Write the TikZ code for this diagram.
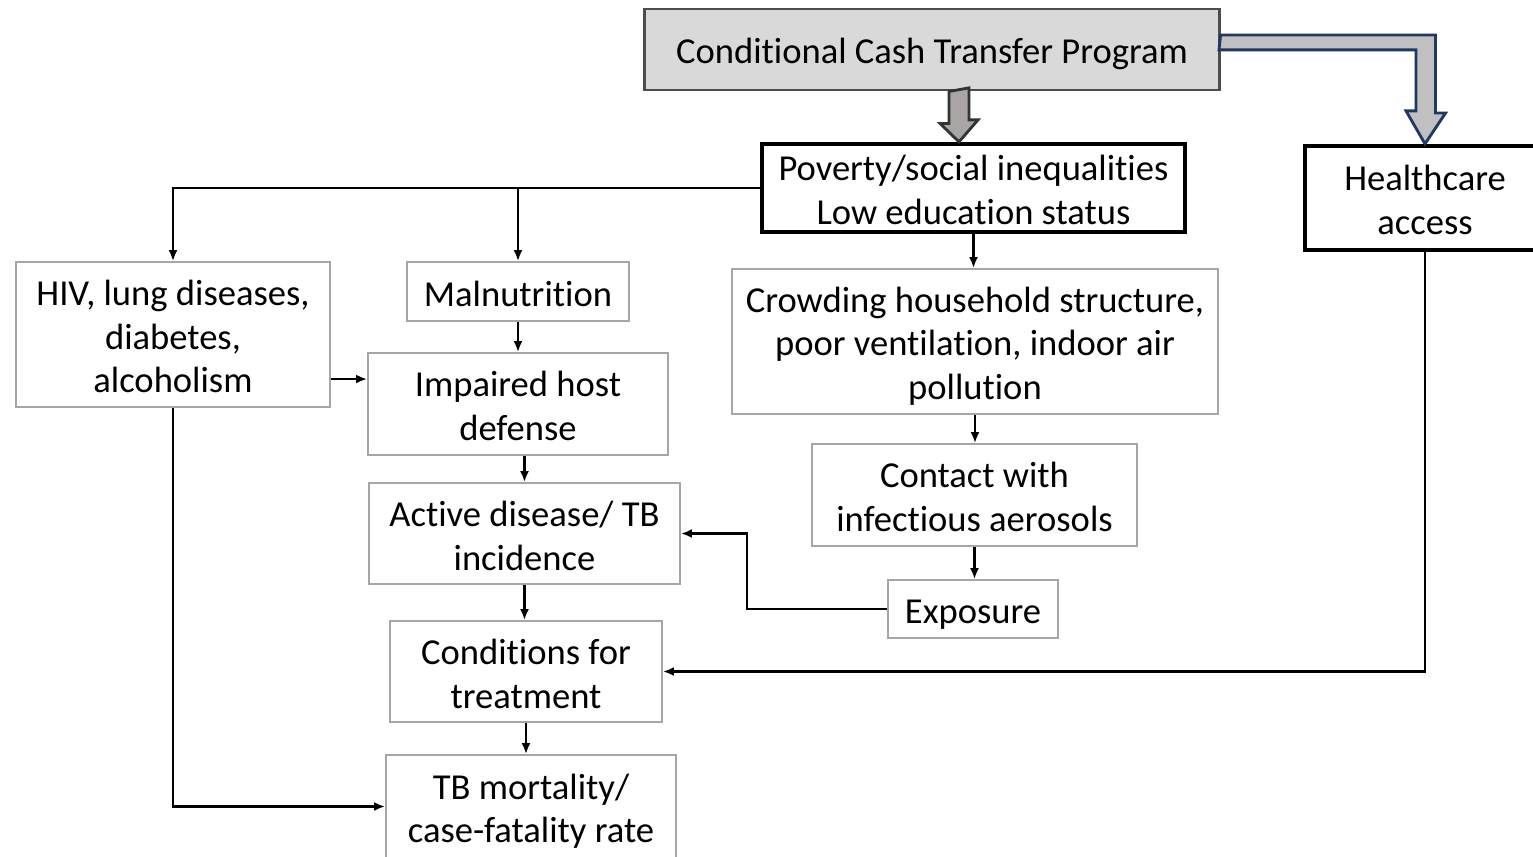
\documentclass[tikz,border=0pt]{standalone}
\usepackage{fontspec}
\setmainfont{Carlito}[Ligatures=NoCommon]
\usetikzlibrary{arrows.meta, calc, positioning}
\definecolor{boxgray}{HTML}{A6A6A6}
\definecolor{cctfill}{HTML}{D9D9D9}
\definecolor{navy}{HTML}{203864}
\definecolor{downfill}{HTML}{A9A5A5}
\definecolor{rightfill}{HTML}{C0C0C0}
\newcommand\topstrut{\rule{0pt}{9.9pt}}
\newcommand\botstrut{\rule[-1.5pt]{0pt}{0pt}}

\begin{document}
\begin{tikzpicture}[x=0.01cm, y=-0.01cm, >={Latex[length=1.1mm,width=0.9mm]},
  font=\fontsize{10.4}{12.4}\selectfont,
  box/.style={draw=boxgray, line width=0.5pt, align=flush center, inner sep=0pt, fill=white,
    execute at begin node=\topstrut, execute at end node=\botstrut},
  keybox/.style={box, draw=black, line width=1.2pt},
  link/.style={->, line width=0.7pt}]
  \fill [white] (0,0) rectangle (1533,856);
  \useasboundingbox (0,0) rectangle (1533,856);

  \node (cct) at (932,49.5) [box, fill=cctfill, draw=black!70, line width=0.8pt, text width=5.74cm, minimum height=0.81cm] {Conditional Cash Transfer Program};
  \node (pov) at (973.5,188) [keybox, text width=4.23cm, minimum height=0.88cm] {Poverty/social inequalities\\Low education status};
  \node (hc) at (1425,198) [keybox, text width=2.4cm, minimum height=1.04cm] {Healthcare\\access};
  \node (hiv) at (173,334.5) [box, text width=3.14cm, minimum height=1.45cm] {HIV, lung diseases,\\diabetes,\\alcoholism};
  \node (mal) at (518,291.5) [box, text width=2.22cm, minimum height=0.59cm] {Malnutrition};
  \node (crowd) at (975,341.5) [box, text width=4.86cm, minimum height=1.45cm] {Crowding household structure,\\poor ventilation, indoor air\\pollution};
  \node (imp) at (518,404) [box, text width=3cm, minimum height=1.02cm] {Impaired host\\defense};
  \node (cont) at (974.5,495) [box, text width=3.25cm, minimum height=1.02cm] {Contact with\\infectious aerosols};
  \node (act) at (524.5,533.5) [box, text width=3.11cm, minimum height=1.01cm] {Active disease/ TB\\incidence};
  \node (expo) at (973,609) [box, text width=1.7cm, minimum height=0.58cm] {Exposure};
  \node (cond) at (526,671.5) [box, text width=2.72cm, minimum height=1.01cm] {Conditions for\\treatment};
  \node (tbm) at (531,806.5) [box, text width=2.9cm, minimum height=1.03cm] {TB mortality/\\case-fatality rate};

  \draw [line width=0.8pt, fill=downfill, draw=black!80] ([xshift=0.17cm]cct.south) -- ++(0,32) -- ++(-9,0) -- ([xshift=-0.145cm]pov.north) -- ++(19,-22) -- ++(-9,0) -- ++(0,-32) -- cycle;
  \draw [line width=0.8pt, fill=rightfill, draw=navy] ([yshift=0.145cm]cct.east) -- ++(215,0) -- ++(0,78) -- ++(10,0) -- (hc.north) -- ++(-19,-33) -- ++(10,0) -- ++(0,-61) -- ++(-197,0) -- cycle;

  \draw [link] (pov.west) -| (hiv.north);
  \draw [link] (mal.north |- pov.west) -- (mal.north);
  \draw [link] (pov.south) -- (pov.south |- crowd.north);
  \draw [link] (mal.south) -- (imp.north);
  \coordinate (hivout) at ([yshift=-0.445cm]hiv.east);
  \draw [link] (hivout) -- (hivout -| imp.west);
  \draw [link] (act.north |- imp.south) -- (act.north);
  \draw [link] (act.south) -- (act.south |- cond.north);
  \draw [link] (cond.south) -- (cond.south |- tbm.north);
  \draw [link] (crowd.south) -- (crowd.south |- cont.north);
  \draw [link] (cont.south) -- (cont.south |- expo.north);
  \draw [link] (expo.west) -- ++(-140,0) |- (act.east);
  \draw [link] (hc.south) |- (cond.east);
  \draw [link] (hiv.south) |- (tbm.west);
\end{tikzpicture}
\end{document}
